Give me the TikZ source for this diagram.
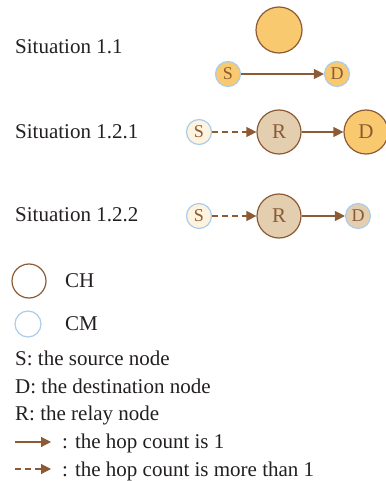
\documentclass[tikz,border=0pt]{standalone}
\usepackage{fontspec}
\setmainfont{Liberation Serif}
\usetikzlibrary{arrows.meta}
\definecolor{brn}{HTML}{8C5A34}
\definecolor{org}{HTML}{F9C96F}
\definecolor{tanf}{HTML}{E3CFB0}
\definecolor{crm}{HTML}{FDF3DE}
\definecolor{lblu}{HTML}{A9CDEA}
\definecolor{txt}{HTML}{231F20}
\tikzset{
  lab/.style={anchor=base west, inner sep=0pt, text=txt, font=\fontsize{21}{25}\selectfont},
  bignode/.style={circle, minimum size=44pt, inner sep=0pt, draw=brn, line width=1.2pt, text=brn, font=\fontsize{21}{25}\selectfont},
  smallnode/.style={circle, minimum size=25pt, inner sep=0pt, draw=lblu, line width=1.2pt, text=brn, font=\fontsize{18}{21}\selectfont},
  arr/.style={draw=brn, line width=1.2pt, -{Triangle[length=10pt,width=10pt]}},
  darr/.style={arr, dash pattern=on 6pt off 4pt}
}
\begin{document}
\begin{tikzpicture}[x=1pt,y=-1pt]
\useasboundingbox (0,0) rectangle (385,481);
% Situation 1.1
\node[lab] (t11) at (15,54) {Situation 1.1};
\node[bignode, fill=org, minimum size=46pt] (ch11) at (279,30) {};
\node[smallnode, fill=org] (s11) at (228,74) {S};
\node[smallnode, fill=org] (d11) at (337,74) {D};
\draw[arr] (s11) -- (d11);
% Situation 1.2.1
\node[lab] (t121) at (15,139) {Situation 1.2.1};
\node[smallnode, fill=crm] (s121) at (199,132) {S};
\node[bignode, fill=tanf] (r121) at (279,132) {R};
\node[bignode, fill=org] (d121) at (366,132) {D};
\draw[darr] (s121) -- (r121);
\draw[arr] (r121) -- (d121);
% Situation 1.2.2
\node[lab] (t122) at (15,221) {Situation 1.2.2};
\node[smallnode, fill=crm] (s122) at (199,216) {S};
\node[bignode, fill=tanf] (r122) at (279,216) {R};
\node[smallnode, fill=tanf] (d122) at (358,216) {D};
\draw[darr] (s122) -- (r122);
\draw[arr] (r122) -- (d122);
% Legend
\node[circle, minimum size=34pt, inner sep=0pt, draw=brn, line width=1.2pt] (lch) at (29,281) {};
\node[lab] (tch) at (65,287) {CH};
\node[circle, minimum size=26pt, inner sep=0pt, draw=lblu, line width=1.2pt] (lcm) at (28,324) {};
\node[lab] (tcm) at (65,330) {CM};
\node[lab] (ls) at (15,365) {S: the source node};
\node[lab] (ld) at (15,393) {D: the destination node};
\node[lab] (lr) at (15,420) {R: the relay node};
\coordinate (a1) at (15,442);
\coordinate (a2) at (51,442);
\draw[arr] (a1) -- (a2);
\node[lab] (lh1) at (62,448) {: the hop count is 1};
\coordinate (b1) at (15,469);
\coordinate (b2) at (51,469);
\draw[darr] (b1) -- (b2);
\node[lab] (lh2) at (62,476) {: the hop count is more than 1};
\end{tikzpicture}
\end{document}
